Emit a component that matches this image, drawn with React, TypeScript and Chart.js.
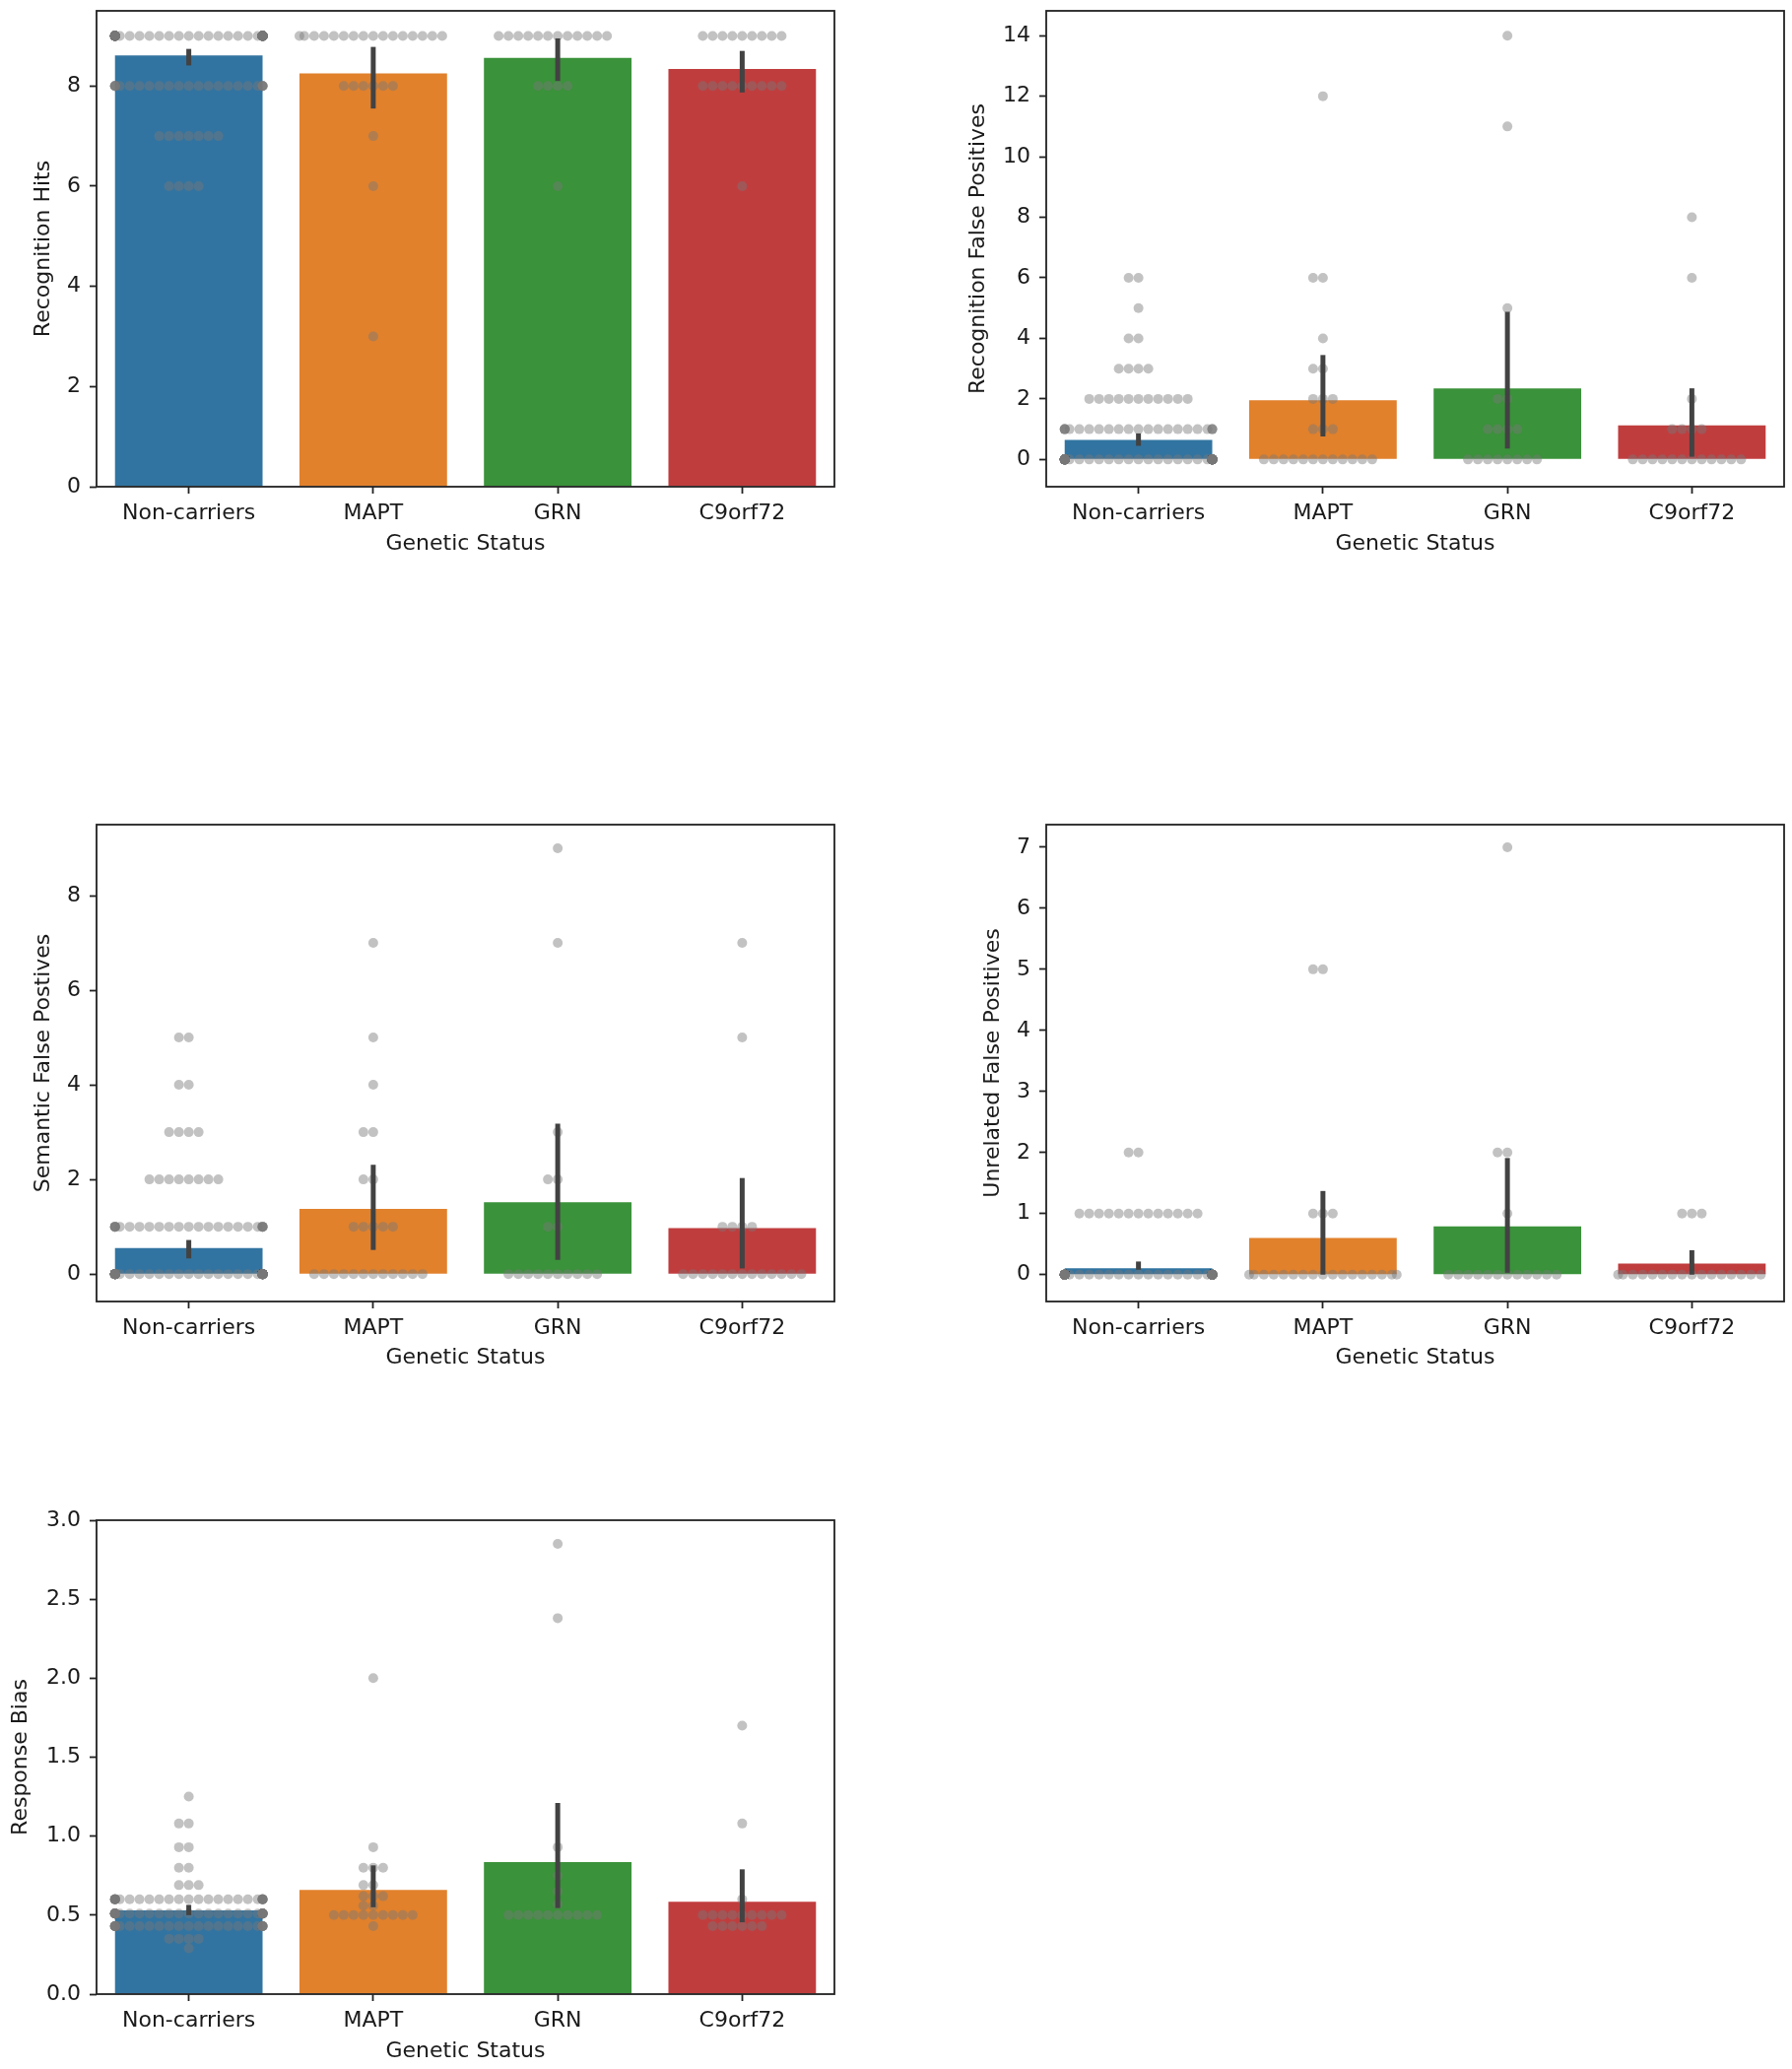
import React, { useEffect, useRef } from "react";
import { Chart, registerables } from "chart.js";
Chart.register(...registerables);

// ---------- data ----------
const categories = ["Non-carriers", "MAPT", "GRN", "C9orf72"];
const barColors = ["#3274a1", "#e1812c", "#3a923a", "#c03d3e"];
const xTitle = "Genetic Status";

// Recognition Hits
const hitsMean = [8.61, 8.25, 8.56, 8.34];
const hitsLo = [8.41, 7.55, 8.1, 7.87];
const hitsHi = [8.74, 8.78, 8.95, 8.7];
const hitsTicks = [0, 2, 4, 6, 8];
const hitsPoints = [
  [[9, 85], [8, 25], [7, 7], [6, 4]],
  [[9, 16], [8, 6], [7, 1], [6, 1], [3, 1]],
  [[9, 12], [8, 4], [6, 1]],
  [[9, 9], [8, 9], [6, 1]],
];

// Recognition False Positives
const recFpMean = [0.65, 1.96, 2.35, 1.13];
const recFpLo = [0.45, 0.76, 0.36, 0.09];
const recFpHi = [0.86, 3.45, 4.88, 2.35];
const recFpTicks = [0, 2, 4, 6, 8, 10, 12, 14];
const recFpPoints = [
  [[0, 80], [1, 22], [2, 11], [3, 4], [4, 2], [5, 1], [6, 2]],
  [[0, 12], [1, 3], [2, 3], [3, 2], [4, 1], [6, 2], [12, 1]],
  [[0, 8], [1, 4], [2, 2], [5, 1], [11, 1], [14, 1]],
  [[0, 12], [1, 4], [2, 1], [6, 1], [8, 1]],
];

// Semantic False Postives
const semFpMean = [0.55, 1.38, 1.52, 0.97];
const semFpLo = [0.33, 0.51, 0.3, 0.12];
const semFpHi = [0.72, 2.31, 3.18, 2.03];
const semFpTicks = [0, 2, 4, 6, 8];
const semFpPoints = [
  [[0, 80], [1, 25], [2, 8], [3, 4], [4, 2], [5, 2]],
  [[0, 12], [1, 5], [2, 2], [3, 2], [4, 1], [5, 1], [7, 1]],
  [[0, 10], [1, 2], [2, 2], [3, 1], [7, 1], [9, 1]],
  [[0, 13], [1, 4], [5, 1], [7, 1]],
];

// Unrelated False Positives
const unrFpMean = [0.105, 0.6, 0.79, 0.18];
const unrFpLo = [0.08, 0.0, 0.03, 0.0];
const unrFpHi = [0.215, 1.37, 1.91, 0.4];
const unrFpTicks = [0, 1, 2, 3, 4, 5, 6, 7];
const unrFpPoints = [
  [[0, 105], [1, 13], [2, 2]],
  [[0, 17], [1, 3], [5, 2]],
  [[0, 12], [1, 1], [2, 2], [7, 1]],
  [[0, 16], [1, 3]],
];

// Response Bias
const biasMean = [0.53, 0.66, 0.836, 0.585];
const biasLo = [0.5, 0.55, 0.545, 0.455];
const biasHi = [0.565, 0.815, 1.21, 0.79];
const biasTicks = [0, 0.5, 1.0, 1.5, 2.0, 2.5, 3.0];
const biasPoints = [
  [[1.25, 1], [1.08, 2], [0.93, 2], [0.8, 2], [0.69, 3], [0.6, 30], [0.51, 40], [0.43, 30], [0.35, 4], [0.29, 1]],
  [[2.0, 1], [0.93, 1], [0.8, 3], [0.69, 2], [0.62, 3], [0.56, 2], [0.5, 9], [0.43, 1]],
  [[2.85, 1], [2.38, 1], [0.93, 1], [0.75, 1], [0.65, 1], [0.57, 1], [0.5, 10]],
  [[1.7, 1], [1.08, 1], [0.6, 1], [0.5, 9], [0.43, 6]],
];

// ---------- layout ----------
type PanelSpec = {
  yTitle: string;
  mean: number[];
  lo: number[];
  hi: number[];
  ticks: number[];
  points: number[][][];
  yMin: number;
  yMax: number;
  decimals: number;
  canvas: [number, number, number, number]; // x, y, w, h
  plot: [number, number, number, number]; // L, T, R, B (page px)
  yTitleX: number;
  xTitleY: number;
};

const FONT = "DejaVu Sans";
const FS = 22;
const LH = FS * 1.2;
const TEXT = "#1a1a1a";

const panels: PanelSpec[] = [
  {
    yTitle: "Recognition Hits", mean: hitsMean, lo: hitsLo, hi: hitsHi, ticks: hitsTicks, points: hitsPoints,
    yMin: 0, yMax: 9.5, decimals: 0,
    canvas: [0, 0, 900, 600], plot: [98, 11, 847, 494], yTitleX: 44, xTitleY: 552,
  },
  {
    yTitle: "Recognition False Positives", mean: recFpMean, lo: recFpLo, hi: recFpHi, ticks: recFpTicks, points: recFpPoints,
    yMin: -0.9, yMax: 14.82, decimals: 0,
    canvas: [940, 0, 879, 600], plot: [1062, 11, 1811, 494], yTitleX: 993.5, xTitleY: 552,
  },
  {
    yTitle: "Semantic False Postives", mean: semFpMean, lo: semFpLo, hi: semFpHi, ticks: semFpTicks, points: semFpPoints,
    yMin: -0.58, yMax: 9.5, decimals: 0,
    canvas: [0, 780, 900, 640], plot: [98, 837, 847, 1321], yTitleX: 44, xTitleY: 1378.5,
  },
  {
    yTitle: "Unrelated False Positives", mean: unrFpMean, lo: unrFpLo, hi: unrFpHi, ticks: unrFpTicks, points: unrFpPoints,
    yMin: -0.44, yMax: 7.37, decimals: 0,
    canvas: [940, 780, 879, 640], plot: [1062, 837, 1811, 1321], yTitleX: 1008.6, xTitleY: 1378.5,
  },
  {
    yTitle: "Response Bias", mean: biasMean, lo: biasLo, hi: biasHi, ticks: biasTicks, points: biasPoints,
    yMin: 0, yMax: 3.0, decimals: 1,
    canvas: [0, 1500, 900, 600], plot: [98, 1543, 847, 2024], yTitleX: 21.4, xTitleY: 2082.5,
  },
];

const DOT_R = 5;
const DOT_SPACING = 10;

function buildSwarm(points: number[][][], dUnits: number, half: number) {
  const out: { x: number; y: number }[] = [];
  points.forEach((grp, gi) => {
    grp.forEach(([v, n]) => {
      for (let k = 0; k < n; k++) {
        const m = Math.ceil(k / 2);
        const sign = k % 2 === 1 ? -1 : 1;
        let off = sign * m * dUnits;
        if (Math.abs(off) > half) off = sign * half;
        out.push({ x: gi + off, y: v });
      }
    });
  });
  return out;
}

function Panel({ spec }: { spec: PanelSpec }) {
  const ref = useRef<HTMLCanvasElement | null>(null);
  useEffect(() => {
    const [cx, cy, cw, ch] = spec.canvas;
    const [L, T, R, B] = spec.plot;
    const yAxisW = L - cx;
    const xAxisH = cy + ch - B;
    const yTitlePad = spec.yTitleX - cx - LH / 2;
    const xTitlePad = cy + ch - spec.xTitleY - LH / 2;
    const font = { family: FONT, size: FS };

    const errPlugin = {
      id: "errbars",
      afterDatasetsDraw(chart: any) {
        const { ctx } = chart;
        const xs = chart.scales.xl;
        const ys = chart.scales.y;
        ctx.save();
        ctx.strokeStyle = "#424242";
        ctx.lineWidth = 5;
        ctx.lineCap = "butt";
        spec.lo.forEach((l, i) => {
          const x = xs.getPixelForValue(i);
          ctx.beginPath();
          ctx.moveTo(x, ys.getPixelForValue(l));
          ctx.lineTo(x, ys.getPixelForValue(spec.hi[i]));
          ctx.stroke();
        });
        const a = chart.chartArea;
        ctx.strokeStyle = "#222";
        ctx.lineWidth = 1.8;
        ctx.strokeRect(a.left, a.top, a.right - a.left, a.bottom - a.top);
        ctx.restore();
      },
    };

    const tickGrid = {
      display: true,
      drawOnChartArea: false,
      drawTicks: true,
      tickLength: 7,
      tickWidth: 1.8,
      tickColor: "#222",
    };

    const chart = new Chart(ref.current as HTMLCanvasElement, {
      type: "bar",
      data: {
        labels: categories,
        datasets: [
          {
            type: "scatter",
            data: [],
            xAxisID: "xl",
            yAxisID: "y",
            pointRadius: DOT_R,
            pointHoverRadius: DOT_R,
            backgroundColor: "rgba(120,120,120,0.45)",
            borderWidth: 0,
            order: 1,
          } as any,
          {
            type: "bar",
            data: spec.mean,
            xAxisID: "x",
            yAxisID: "y",
            backgroundColor: barColors,
            borderWidth: 0,
            barPercentage: 0.8,
            categoryPercentage: 1.0,
            grouped: false,
            order: 2,
          } as any,
        ],
      },
      options: {
        responsive: false,
        animation: false,
        events: [],
        devicePixelRatio: 1,
        layout: {
          autoPadding: false,
          padding: { left: 0, top: T - cy, right: cx + cw - R, bottom: 0 },
        } as any,
        plugins: { legend: { display: false }, tooltip: { enabled: false } },
        scales: {
          x: {
            type: "category",
            offset: true,
            grid: { ...tickGrid, offset: false },
            border: { display: false },
            ticks: { font, color: TEXT, padding: 7, maxRotation: 0, autoSkip: false },
            title: { display: true, text: xTitle, font, color: TEXT, padding: { top: 0, bottom: xTitlePad } },
            afterFit: (s: any) => {
              s.height = xAxisH;
              s.paddingLeft = 0;
              s.paddingRight = 0;
            },
          } as any,
          xl: {
            type: "linear",
            display: false,
            offset: false,
            grid: { offset: false },
            min: -0.5,
            max: 3.5,
          } as any,
          y: {
            type: "linear",
            min: spec.yMin,
            max: spec.yMax,
            grid: tickGrid,
            border: { display: false },
            afterBuildTicks: (s: any) => {
              s.ticks = spec.ticks.map((v) => ({ value: v }));
            },
            ticks: {
              font,
              color: TEXT,
              padding: 9,
              callback: (v: any) => Number(v).toFixed(spec.decimals),
            },
            title: { display: true, text: spec.yTitle, font, color: TEXT, padding: { top: yTitlePad, bottom: 0 } },
            afterFit: (s: any) => {
              s.width = yAxisW;
              s.paddingTop = 0;
              s.paddingBottom = 0;
            },
          } as any,
        },
      },
      plugins: [errPlugin],
    });

    const pxPerUnit = chart.chartArea.width / 4;
    const dUnits = DOT_SPACING / pxPerUnit;
    (chart.data.datasets[0] as any).data = buildSwarm(spec.points, dUnits, 0.4);
    chart.update("none");

    return () => chart.destroy();
  }, [spec]);

  const [cx, cy, cw, ch] = spec.canvas;
  return (
    <canvas
      ref={ref}
      width={cw}
      height={ch}
      style={{ position: "absolute", left: cx, top: cy, width: cw, height: ch }}
    />
  );
}

export default function App() {
  return (
    <div style={{ position: "absolute", left: 0, top: 0, width: 1819, height: 2100, background: "#fff" }}>
      {panels.map((p, i) => (
        <Panel key={i} spec={p} />
      ))}
    </div>
  );
}
